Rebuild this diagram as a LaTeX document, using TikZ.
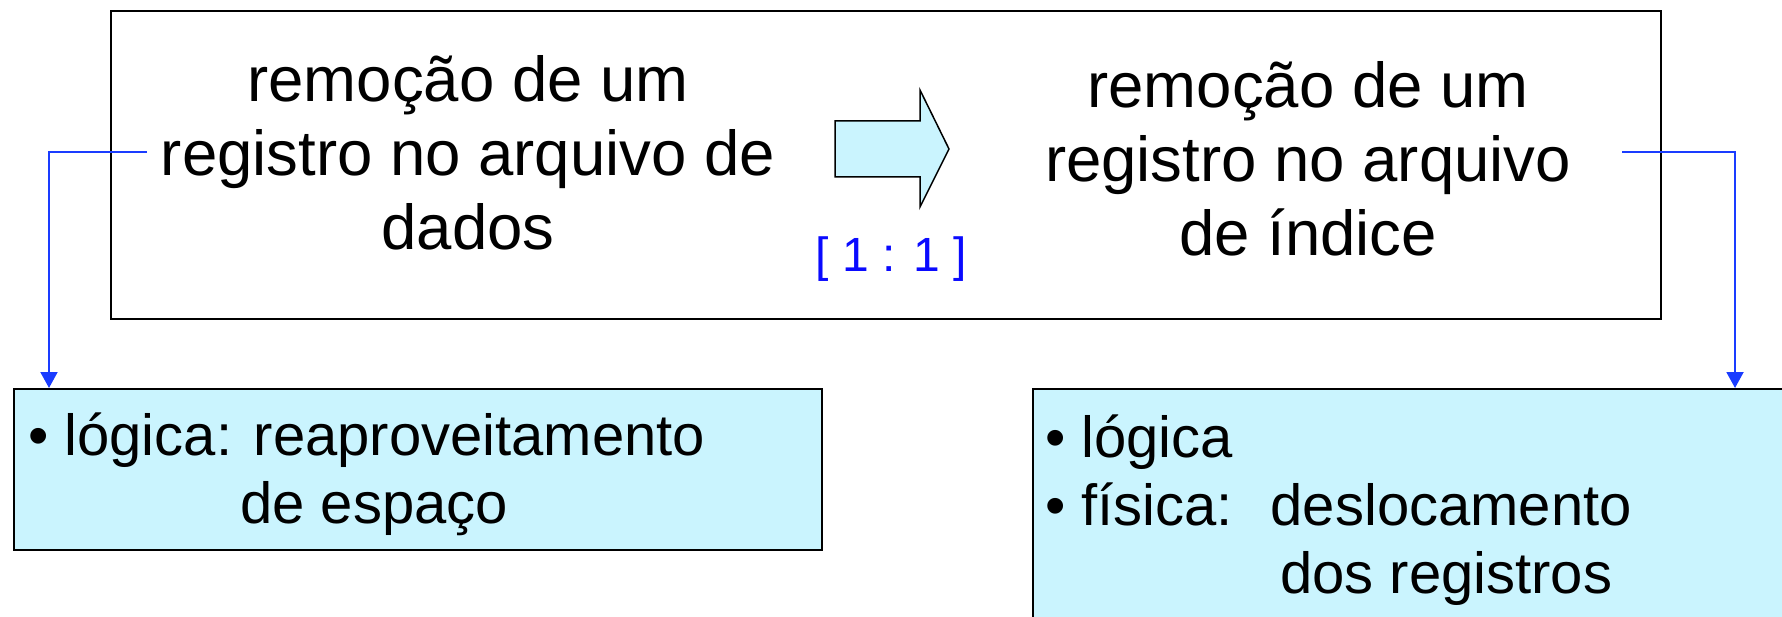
\documentclass[tikz,border=0pt]{standalone}
\usepackage{fontspec}
\setmainfont{Liberation Sans}
\usetikzlibrary{arrows.meta}
\definecolor{boxfill}{HTML}{CAF4FE}
\definecolor{connblue}{HTML}{1A3CFF}
\definecolor{ratioblue}{HTML}{0A0AFF}
\begin{document}
\begin{tikzpicture}[x=1pt,y=-1pt,
  toptext/.style={anchor=base, inner sep=0pt, font=\fontsize{63.5}{74}\selectfont},
  bottext/.style={anchor=base west, inner sep=0pt, font=\fontsize{58}{70}\selectfont},
  frame/.style={draw=black, line width=1.8pt, anchor=north west, inner sep=0pt},
  infobox/.style={frame, fill=boxfill},
  conn/.style={draw=connblue, line width=2pt, -{Triangle[length=16pt,width=17pt]}}]
\useasboundingbox (0,0) rectangle (1782,617);
% main frame
\node[frame, minimum width=1550pt, minimum height=308pt] (top) at (110,10) {};
% lower boxes
\node[infobox, minimum width=808pt, minimum height=161pt] (lbox) at (13,388) {};
\node[infobox, minimum width=800pt, minimum height=260pt] (rbox) at (1032,388) {};
% left text
\node[toptext] (tl1) at (468,102) {remoção de um};
\node[toptext] (tl2) at (468,176) {registro no arquivo de};
\node[toptext] (tl3) at (468,250) {dados};
% right text
\node[toptext] (tr1) at (1308,108) {remoção de um};
\node[toptext] (tr2) at (1308,182) {registro no arquivo};
\node[toptext] (tr3) at (1308,256) {de índice};
% block arrow
\draw[fill=boxfill, draw=black, line width=1.5pt, line join=miter]
  (835,121) -- (920,121) -- (920,90) -- (949,149) -- (920,207) -- (920,177) -- (835,177) -- cycle;
\node[anchor=base, inner sep=0pt, text=ratioblue, font=\fontsize{48}{56}\selectfont] (ratio) at (891,272) {[ 1 : 1 ]};
% bottom texts
\node[bottext] (b1) at (28,455) {• lógica: reaproveitamento};
\node[bottext] (b2) at (240,523) {de espaço};
\node[bottext] (b3) at (1045,457) {• lógica};
\node[bottext] (b4) at (1045,525) {• física:~ deslocamento};
\node[bottext] (b5) at (1280,593) {dos registros};
% connectors
\coordinate (lstart) at (147,152);
\coordinate (rstart) at (1622,152);
\draw[conn] (lstart) -| ([xshift=36pt]lbox.north west);
\draw[conn] (rstart) -| ([xshift=703pt]rbox.north west);
\end{tikzpicture}
\end{document}
